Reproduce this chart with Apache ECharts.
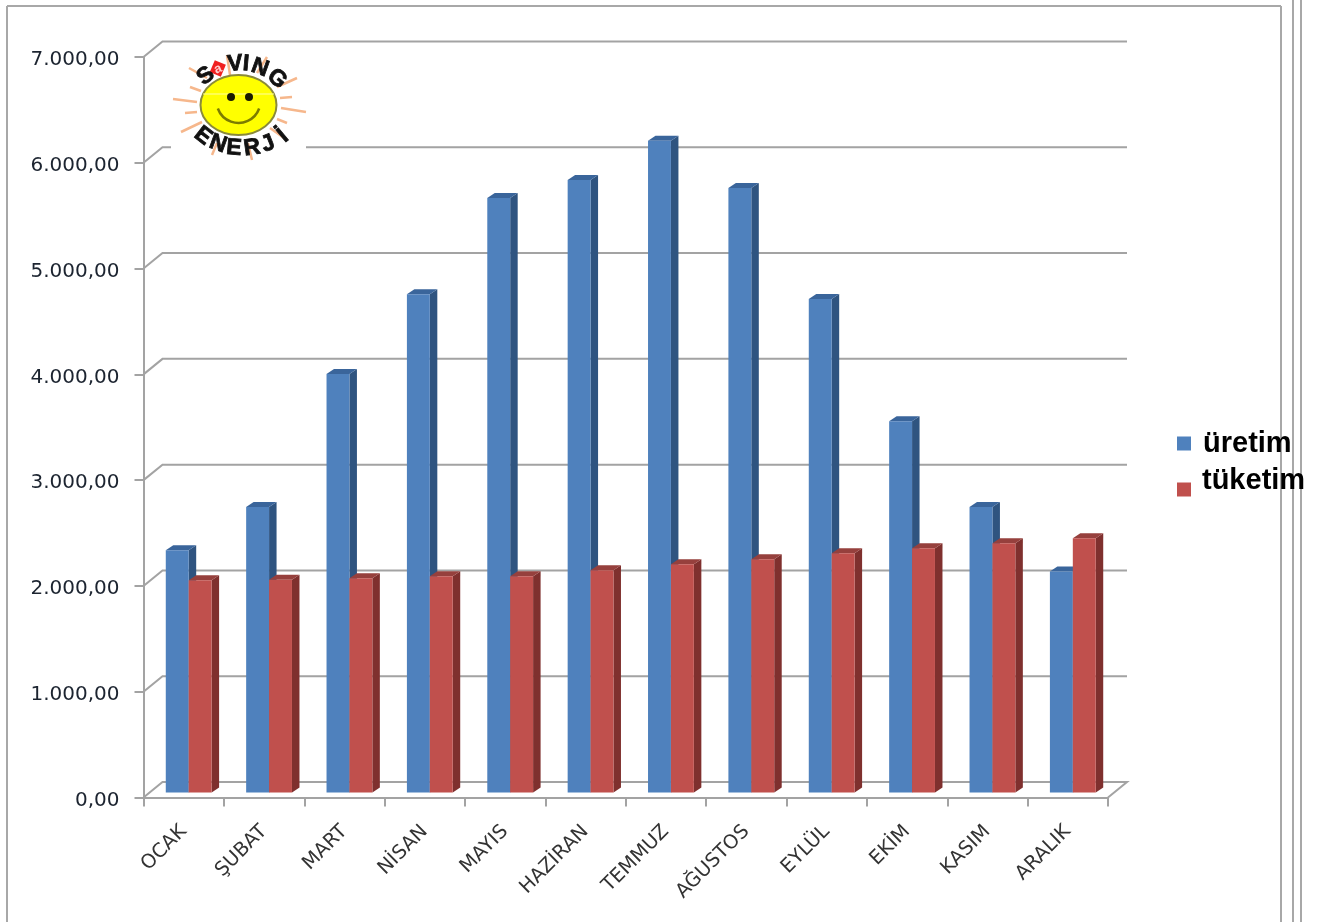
<!DOCTYPE html>
<html>
<head>
<meta charset="utf-8">
<style>html,body{margin:0;padding:0;background:#fff}#chart{width:1323px;height:922px}</style>
<script src="https://cdn.jsdelivr.net/npm/echarts@6/dist/echarts.min.js"></script>
</head>
<body>
<div id="chart"></div>
<script>
// Monthly solar energy figures: production against consumption
const months = ['OCAK','ŞUBAT','MART','NİSAN','MAYIS','HAZİRAN','TEMMUZ','AĞUSTOS','EYLÜL','EKİM','KASIM','ARALIK'];
const uretim = [2290,2700,3955,4711,5620,5790,6160,5714,4664,3510,2700,2090];
const tuketim = [2006,2010,2025,2044,2044,2100,2157,2204,2261,2308,2356,2403];
const wallTicks = [0,1000,2000,3000,4000,5000,6000,7000];

const GRID = {left:143.5, top:57, right:1323-1108, bottom:922-797.5};
const WALL_DX = 19, WALL_DY = 15.5;      // depth of the chart box
const BAR_DX = 5, BAR_DY = 5;            // bars stand part-way into the box
const SIDE_DX = 7.5, SIDE_DY = 5;        // depth of a single bar
const GRID_COLOR = '#a3a3a3';

const fmt = v => {
  const s = String(Math.round(v));
  return s.replace(/\B(?=(\d{3})+$)/g, '.') + ',00';
};

// Draws one bar as a front face, a darker side face and a top face
function barRenderer(position, front, side, top) {
  return function (params, api) {
    const cat = api.value(0), val = api.value(1);
    const base = api.coord([cat, 0]), head = api.coord([cat, val]);
    const band = api.size([1, 0])[0];
    const w = band * 0.285;
    const x0 = base[0] + BAR_DX + (position === 0 ? -w : 0);
    const x1 = x0 + w;
    const y0 = base[1] - BAR_DY, y1 = head[1] - BAR_DY;
    const poly = (points, fill) => ({type:'polygon', shape:{points}, style:{fill}});
    return {type:'group', children:[
      poly([[x1,y0],[x1+SIDE_DX,y0-SIDE_DY],[x1+SIDE_DX,y1-SIDE_DY],[x1,y1]], side),
      poly([[x0,y1],[x0+SIDE_DX,y1-SIDE_DY],[x1+SIDE_DX,y1-SIDE_DY],[x1,y1]], top),
      poly([[x0,y0],[x1,y0],[x1,y1],[x0,y1]], front)
    ]};
  };
}

// Wall gridlines and floor of the pseudo-3D box
function wallRenderer(params, api) {
  const val = api.value(0);
  const a = api.coord([0, val]);
  const size = api.size([1, 0])[0];
  const left = a[0] - size / 2;
  const right = left + size * months.length;
  const y = a[1];
  const points = [[left,y],[left+WALL_DX,y-WALL_DY],[right+WALL_DX,y-WALL_DY]];
  if (val === 0) points.push([right,y]);
  return {type:'polyline', shape:{points},
    style:{stroke:GRID_COLOR, lineWidth:2, fill:null}, silent:true};
}

// Sun logo pieces
const rays = [[173,99,197,102],[190,87,201,91],[189,68,207,78],[185,113,197,112],[181,132,202,122],
  [277,87,297,78],[280,98,292,97],[281,108,306,112],[277,119,287,123],[227,55,230,75],[267,57,257,73],
  [212,155,217,143],[252,160,248,143],[287,140,270,128]];
const logoLetters = [
  ['S',206,76,38],['a',218,69,22],['V',235,64,5],['I',246,64,-5],['N',260,68,-20],['G',277,79,-40],
  ['E',203,136,-38],['N',218,144,-20],['E',234,148,-5],['R',252,148,8],['J',268,144,22],['İ',283,136,40]
];
const line = (x1,y1,x2,y2,stroke,lineWidth,z) => ({type:'line', shape:{x1,y1,x2,y2},
  style:{stroke,lineWidth}, z, silent:true});

const logo = [
  {type:'rect', shape:{x:171,y:138,width:135,height:18}, style:{fill:'#fff'}, z:3, silent:true},
  ...rays.map(r => line(r[0],r[1],r[2],r[3],'#f6b78c',2.5,4)),
  {type:'ellipse', shape:{cx:238.5,cy:105,rx:38,ry:30},
    style:{fill:'#ffff00',stroke:'#8a8a3a',lineWidth:2}, z:5, silent:true},
  line(203,94,274,94,'#ffffa0',1,6),
  {type:'circle', shape:{cx:231,cy:97,r:4}, style:{fill:'#1a1a00'}, z:6, silent:true},
  {type:'circle', shape:{cx:249,cy:97,r:4}, style:{fill:'#1a1a00'}, z:6, silent:true},
  {type:'arc', shape:{cx:238.5,cy:101,r:22,startAngle:0.35,endAngle:Math.PI-0.35},
    style:{stroke:'#7c7c00',lineWidth:2.5,fill:null}, z:6, silent:true},
  {type:'rect', shape:{x:212,y:62,width:12,height:13}, rotation:-0.4, originX:218, originY:68,
    style:{fill:'#f02020'}, z:6, silent:true},
  ...logoLetters.map(l => ({type:'text', x:l[1], y:l[2], rotation:l[3]*Math.PI/180, z:7, silent:true,
    style:{text:l[0], fill:l[0]==='a'?'#ffd0d0':'#111', stroke:l[0]==='a'?null:'#111', lineWidth:0.8,
      font:'bold '+(l[0]==='a'?13:23)+'px "Liberation Sans"',
      align:'center', verticalAlign:'middle'}}))
];

// Page frame lines around the chart
const frame = [
  line(7,6,1281,6,'#a8a8a8',2,1),
  line(7,6,7,922,'#a8a8a8',2,1),
  line(1281,6,1281,922,'#a8a8a8',2,1),
  line(1293,0,1293,922,'#a8a8a8',2,1),
  line(1301,0,1301,922,'#a8a8a8',2,1)
];

const legendFont = {fontFamily:'"Liberation Sans"', fontWeight:'bold', fontSize:29, color:'#000'};

const chart = echarts.init(document.getElementById('chart'), null, {renderer:'canvas'});
chart.setOption({
  animation:false,
  backgroundColor:'#fff',
  grid:GRID,
  xAxis:{type:'category', data:months,
    axisLine:{lineStyle:{color:GRID_COLOR,width:2}},
    axisTick:{show:true,alignWithLabel:false,length:9,lineStyle:{color:GRID_COLOR,width:2}},
    axisLabel:{rotate:45, interval:0, margin:31, fontFamily:'"DejaVu Sans"', fontSize:19.5, color:'#333'}},
  yAxis:{type:'value', min:0, max:7000, interval:1000,
    splitLine:{show:false},
    axisLine:{show:true,lineStyle:{color:GRID_COLOR,width:2}},
    axisTick:{show:true,length:9,lineStyle:{color:GRID_COLOR,width:2}},
    axisLabel:{formatter:fmt, margin:24, verticalAlign:'top', lineHeight:6,
      fontFamily:'"DejaVu Sans"', fontSize:20, color:'#1c2430'}},
  legend:[
    {data:[{name:'üretim',icon:'rect'}], left:1177, top:429, padding:0, orient:'vertical', itemWidth:14, itemHeight:14, itemGap:0,
      selectedMode:false, textStyle:Object.assign({padding:[0,0,0,7]}, legendFont)},
    // second row: the swatch sits below the text, so the label carries an empty second line
    {data:[{name:'tüketim',icon:'rect'}], left:1177, top:466, padding:0, orient:'vertical', itemWidth:14, itemHeight:14, itemGap:0,
      selectedMode:false, formatter:name => '{t|' + name + '}\n{s| }',
      textStyle:{padding:[0,0,0,6], rich:{t:Object.assign({lineHeight:33}, legendFont), s:{fontSize:10, lineHeight:18}}}}
  ],
  series:[
    {type:'custom', name:'duvar', z:1, silent:true, coordinateSystem:'cartesian2d',
      data:wallTicks.map(v => [v]), encode:{y:0}, renderItem:wallRenderer},
    {type:'custom', name:'üretim', z:2, itemStyle:{color:'#4f81bd'}, coordinateSystem:'cartesian2d',
      data:uretim.map((v,i) => [i,v]), encode:{x:0,y:1},
      renderItem:barRenderer(0,'#4f81bd','#2f5480','#3a659b')},
    {type:'custom', name:'tüketim', z:2, itemStyle:{color:'#c0504d'}, coordinateSystem:'cartesian2d',
      data:tuketim.map((v,i) => [i,v]), encode:{x:0,y:1},
      renderItem:barRenderer(1,'#c0504d','#7f302e','#96403d')}
  ],
  graphic:{elements:[...frame, ...logo]}
});
</script>
</body>
</html>
